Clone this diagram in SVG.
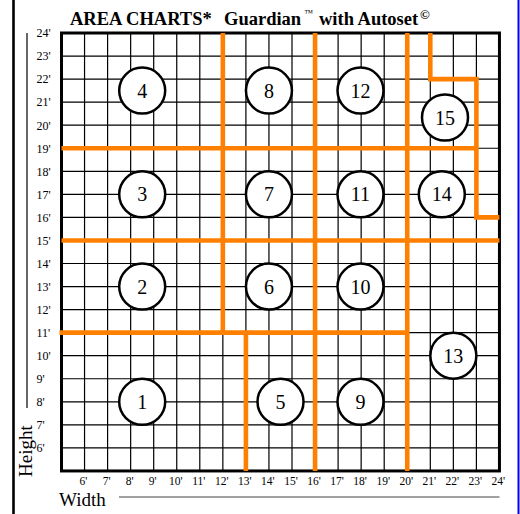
<svg xmlns="http://www.w3.org/2000/svg" width="520" height="514" viewBox="0 0 520 514">
<style>
.g{stroke:#000;stroke-width:1.2;fill:none}
.o{stroke:#ff8000;stroke-width:4.6;fill:none;stroke-linecap:butt}
.c{fill:#fff;stroke:#000;stroke-width:2.5}
.n{font-family:"Liberation Serif","Times New Roman",serif;font-size:20px;text-anchor:middle;fill:#000}
.ly{font-family:"Liberation Serif","Times New Roman",serif;font-size:12px;fill:#000}
.lx{font-family:"Liberation Serif","Times New Roman",serif;font-size:11.5px;fill:#000;text-anchor:middle}
.ax{font-family:"Liberation Serif","Times New Roman",serif;font-size:19px;fill:#000}
.t{font-family:"Liberation Serif","Times New Roman",serif;font-size:18.5px;font-weight:bold;fill:#000}
</style>
<rect x="0" y="0" width="520" height="514" fill="#fff"/>
<line x1="13.5" y1="0" x2="13.5" y2="514" stroke="#000" stroke-width="2.6"/>
<line x1="518.5" y1="0" x2="518.5" y2="514" stroke="#0000ff" stroke-width="2"/>
<text class="t" x="70" y="25">AREA CHARTS*<tspan x="224">Guardian</tspan><tspan x="304" y="16" font-size="9" font-style="italic" font-weight="normal">™</tspan><tspan x="319" y="25">with Autoset</tspan><tspan x="420" y="19" font-size="13">©</tspan></text>
<g id="grid">
<path class="g" d="M84.55 33V471M107.6 33V471M130.65 33V471M153.7 33V471M176.75 33V471M199.8 33V471M222.85 33V471M245.9 33V471M268.95 33V471M292 33V471M315.05 33V471M338.1 33V471M361.15 33V471M384.2 33V471M407.25 33V471M430.3 33V471M453.35 33V471M476.4 33V471"/>
<path class="g" d="M61.5 56.05H499.45M61.5 79.1H499.45M61.5 102.15H499.45M61.5 125.2H499.45M61.5 148.25H499.45M61.5 171.3H499.45M61.5 194.35H499.45M61.5 217.4H499.45M61.5 240.45H499.45M61.5 263.5H499.45M61.5 286.55H499.45M61.5 309.6H499.45M61.5 332.65H499.45M61.5 355.7H499.45M61.5 378.75H499.45M61.5 401.8H499.45M61.5 424.85H499.45M61.5 447.9H499.45"/>
<rect x="61.5" y="33" width="437.95" height="437.95" fill="none" stroke="#000" stroke-width="3"/>
</g>
<g id="axes">
<line x1="27" y1="33" x2="27" y2="408" stroke="#000" stroke-width="1.2"/>
<line x1="119" y1="497" x2="499.5" y2="497" stroke="#444" stroke-width="1.2"/>
<text class="ax" transform="translate(32,477) rotate(-90)">Height</text>
<text class="ax" x="59" y="506">Width</text>
<text class="ly" x="36.5" y="37.3">24'</text>
<text class="ly" x="36.5" y="60.35">23'</text>
<text class="ly" x="36.5" y="83.4">22'</text>
<text class="ly" x="36.5" y="106.45">21'</text>
<text class="ly" x="36.5" y="129.5">20'</text>
<text class="ly" x="36.5" y="152.55">19'</text>
<text class="ly" x="36.5" y="175.6">18'</text>
<text class="ly" x="36.5" y="198.65">17'</text>
<text class="ly" x="36.5" y="221.7">16'</text>
<text class="ly" x="36.5" y="244.75">15'</text>
<text class="ly" x="36.5" y="267.8">14'</text>
<text class="ly" x="36.5" y="290.85">13'</text>
<text class="ly" x="36.5" y="313.9">12'</text>
<text class="ly" x="36.5" y="336.95">11'</text>
<text class="ly" x="36.5" y="360">10'</text>
<text class="ly" x="36.5" y="383.05">9'</text>
<text class="ly" x="36.5" y="406.1">8'</text>
<text class="ly" x="36.5" y="429.15">7'</text>
<text class="ly" x="36.5" y="452.2">6'</text>
<text class="lx" x="83.5" y="485">6'</text>
<text class="lx" x="106.6" y="485">7'</text>
<text class="lx" x="129.6" y="485">8'</text>
<text class="lx" x="152.7" y="485">9'</text>
<text class="lx" x="175.7" y="485">10'</text>
<text class="lx" x="198.8" y="485">11'</text>
<text class="lx" x="221.8" y="485">12'</text>
<text class="lx" x="244.9" y="485">13'</text>
<text class="lx" x="267.9" y="485">14'</text>
<text class="lx" x="291" y="485">15'</text>
<text class="lx" x="314" y="485">16'</text>
<text class="lx" x="337.1" y="485">17'</text>
<text class="lx" x="360.1" y="485">18'</text>
<text class="lx" x="383.2" y="485">19'</text>
<text class="lx" x="406.2" y="485">20'</text>
<text class="lx" x="429.3" y="485">21'</text>
<text class="lx" x="452.3" y="485">22'</text>
<text class="lx" x="475.4" y="485">23'</text>
<text class="lx" x="498.4" y="485">24'</text>
</g>
<g id="connectors">
<path class="o" d="M222.85 33V332.65"/>
<path class="o" d="M245.9 332.65V471"/>
<path class="o" d="M315.05 33V471"/>
<path class="o" d="M407.25 33V471"/>
<path class="o" d="M430.3 33V79.1H476.4V217.4H499.45"/>
<path class="o" d="M61.5 148.25H476.4"/>
<path class="o" d="M61.5 240.45H499.45"/>
<path class="o" d="M59.5 332.65H407.25"/>
</g>
<g id="n1"><circle class="c" cx="142.2" cy="401.8" r="23"/><text class="n" x="142.2" y="408.8">1</text></g>
<g id="n2"><circle class="c" cx="142.2" cy="286.55" r="23"/><text class="n" x="142.2" y="293.55">2</text></g>
<g id="n3"><circle class="c" cx="142.2" cy="194.35" r="23"/><text class="n" x="142.2" y="201.35">3</text></g>
<g id="n4"><circle class="c" cx="142.2" cy="90.6" r="23"/><text class="n" x="142.2" y="97.6">4</text></g>
<g id="n5"><circle class="c" cx="280.5" cy="401.8" r="23"/><text class="n" x="280.5" y="408.8">5</text></g>
<g id="n6"><circle class="c" cx="268.95" cy="286.55" r="23"/><text class="n" x="268.95" y="293.55">6</text></g>
<g id="n7"><circle class="c" cx="268.95" cy="194.35" r="23"/><text class="n" x="268.95" y="201.35">7</text></g>
<g id="n8"><circle class="c" cx="268.95" cy="90.6" r="23"/><text class="n" x="268.95" y="97.6">8</text></g>
<g id="n9"><circle class="c" cx="360.5" cy="401.8" r="23"/><text class="n" x="360.5" y="408.8">9</text></g>
<g id="n10"><circle class="c" cx="360.5" cy="286.55" r="23"/><text class="n" x="360.5" y="293.55">10</text></g>
<g id="n11"><circle class="c" cx="360.5" cy="194.35" r="23"/><text class="n" x="360.5" y="201.35">11</text></g>
<g id="n12"><circle class="c" cx="360.5" cy="90.6" r="23"/><text class="n" x="360.5" y="97.6">12</text></g>
<g id="n13"><circle class="c" cx="453.35" cy="355.7" r="23"/><text class="n" x="453.35" y="362.7">13</text></g>
<g id="n14"><circle class="c" cx="441.8" cy="194.35" r="23"/><text class="n" x="441.8" y="201.35">14</text></g>
<g id="n15"><circle class="c" cx="445" cy="117.5" r="23"/><text class="n" x="445" y="124.5">15</text></g>
</svg>
